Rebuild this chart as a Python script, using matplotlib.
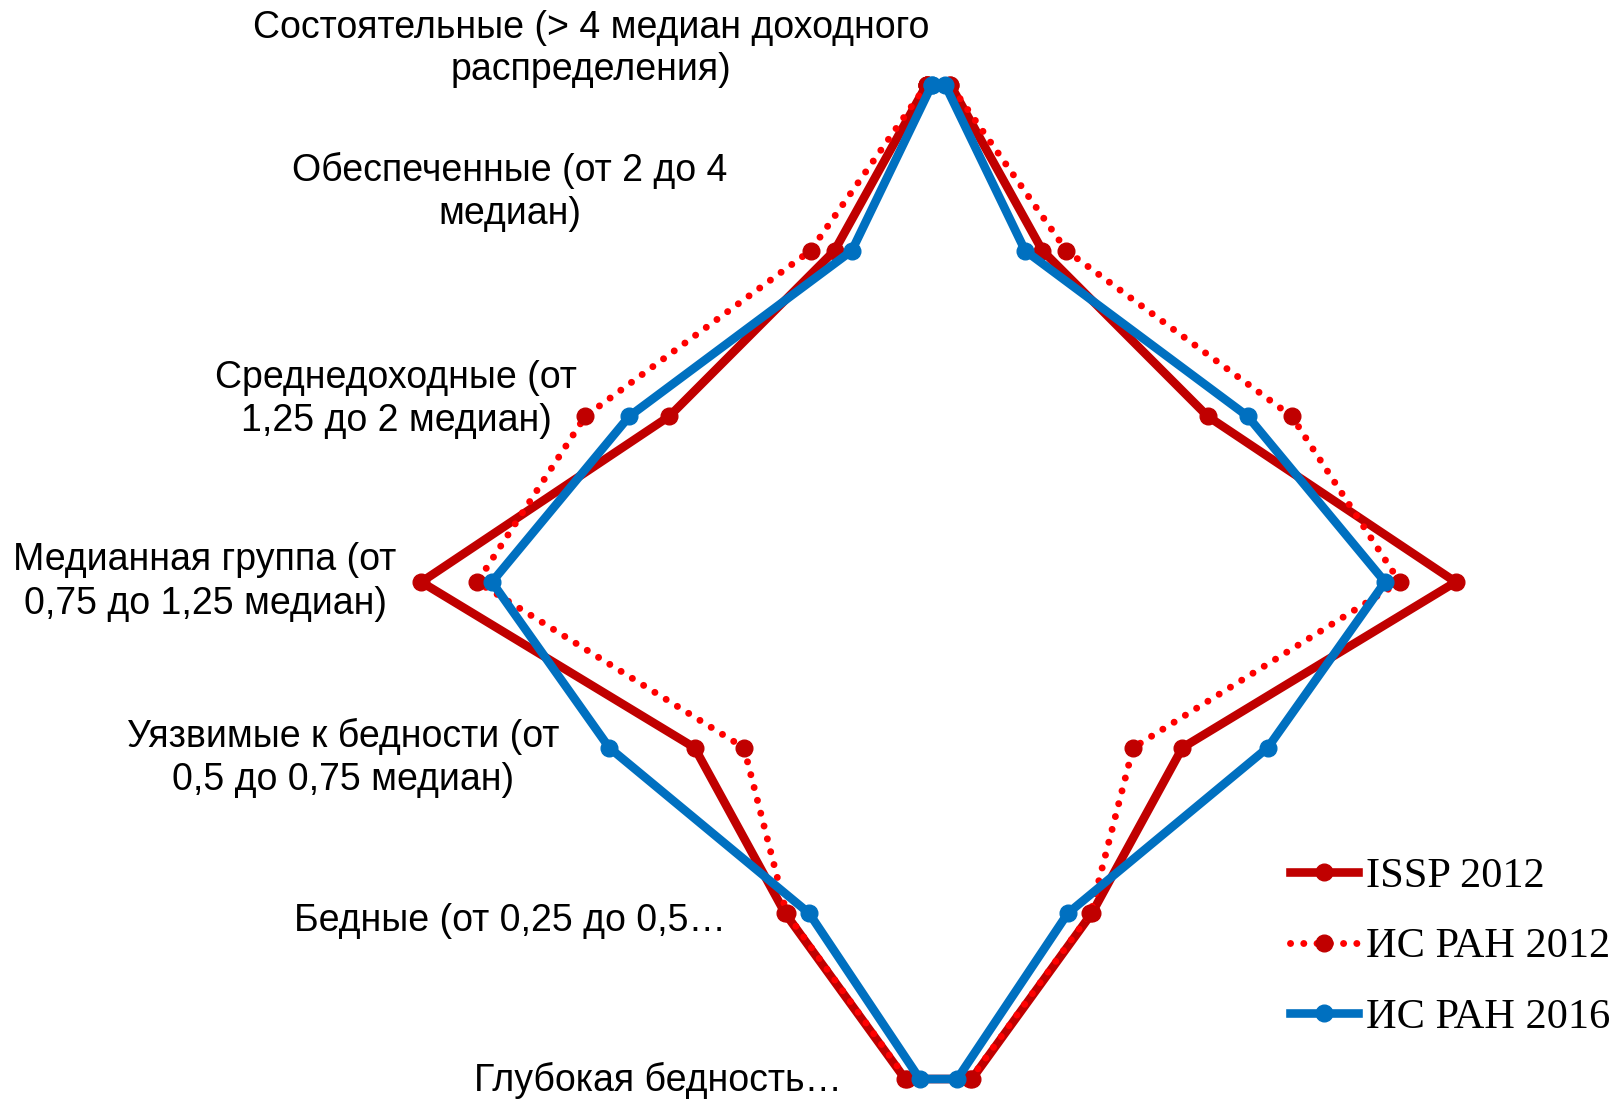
import numpy as np
import matplotlib
matplotlib.use("Agg")
import matplotlib.pyplot as plt

# =========================
# DATA (shares of population, %)
# =========================

categories = [
    "Состоятельные (> 4 медиан доходного\nраспределения)",
    "Обеспеченные (от 2 до 4\nмедиан)",
    "Среднедоходные (от\n1,25 до 2 медиан)",
    "Медианная группа (от\n0,75 до 1,25 медиан)",
    "Уязвимые к бедности (от\n0,5 до 0,75 медиан)",
    "Бедные (от 0,25 до 0,5…",
    "Глубокая бедность…",
]

issp_2012 = [0.9, 7.8, 20.2, 38.8, 18.3, 11.5, 2.5]
isran_2012 = [0.9, 9.6, 26.5, 34.6, 14.6, 11.4, 2.4]
isran_2016 = [0.5, 6.5, 23.2, 33.5, 24.7, 9.7, 1.4]

series_names = ["ISSP 2012", "ИС РАН 2012", "ИС РАН 2016"]

# label anchor points (pixels on the 1619x1100 canvas)
label_pos = [(591, 49), (510, 192), (396, 399), (205, 582),
             (343, 758), (510, 921), (658, 1080)]

# =========================
# FIGURE
# =========================

W, H = 1619, 1100
fig = plt.figure(figsize=(W / 100, H / 100), dpi=100)
ax = fig.add_axes([0, 0, 1, 1])

px_per_pct = 13.33
cx = 938.5
ax.set_xlim(-cx / px_per_pct, (W - cx) / px_per_pct)
row_top, row_step = 85, 165.67
ax.set_ylim(6 + (H - row_top - 6 * row_step) / row_step, -row_top / row_step)
ax.axis("off")


def outline(vals):
    v = np.array(vals)
    rows = np.arange(len(v))
    xs = np.concatenate([-v, v[::-1], [-v[0]]])
    ys = np.concatenate([rows, rows[::-1], [rows[0]]])
    return xs, ys


x1, y1 = outline(issp_2012)
x2, y2 = outline(isran_2012)
x3, y3 = outline(isran_2016)

ax.plot(x1, y1, color="#C00000", lw=6.2, marker="o", ms=12,
        solid_joinstyle="round", label=series_names[0], zorder=2)
ax.plot(x2, y2, color="#FF0000", lw=5, ls=(0, (0.01, 1.9)),
        dash_capstyle="round", marker="o", ms=12,
        mfc="#C00000", mec="#C00000", label=series_names[1], zorder=3)
ax.plot(x3, y3, color="#0070C0", lw=6.2, marker="o", ms=12,
        solid_joinstyle="round", label=series_names[2], zorder=4)

# Category labels
for text, (px, py) in zip(categories, label_pos):
    fig.text(px / W, 1 - py / H, text, ha="center", va="center",
             multialignment="center", fontsize=27, family="Liberation Sans",
             linespacing=1.25)

# Legend
leg = fig.legend(loc="center left", bbox_to_anchor=(1290 / W, 1 - 947 / H),
                 frameon=False, borderpad=0, borderaxespad=0,
                 handlelength=1.6, handletextpad=0.2, labelspacing=0.75,
                 prop={"family": "Liberation Serif", "size": 30.5})

fig.savefig("out.png", dpi=100)
